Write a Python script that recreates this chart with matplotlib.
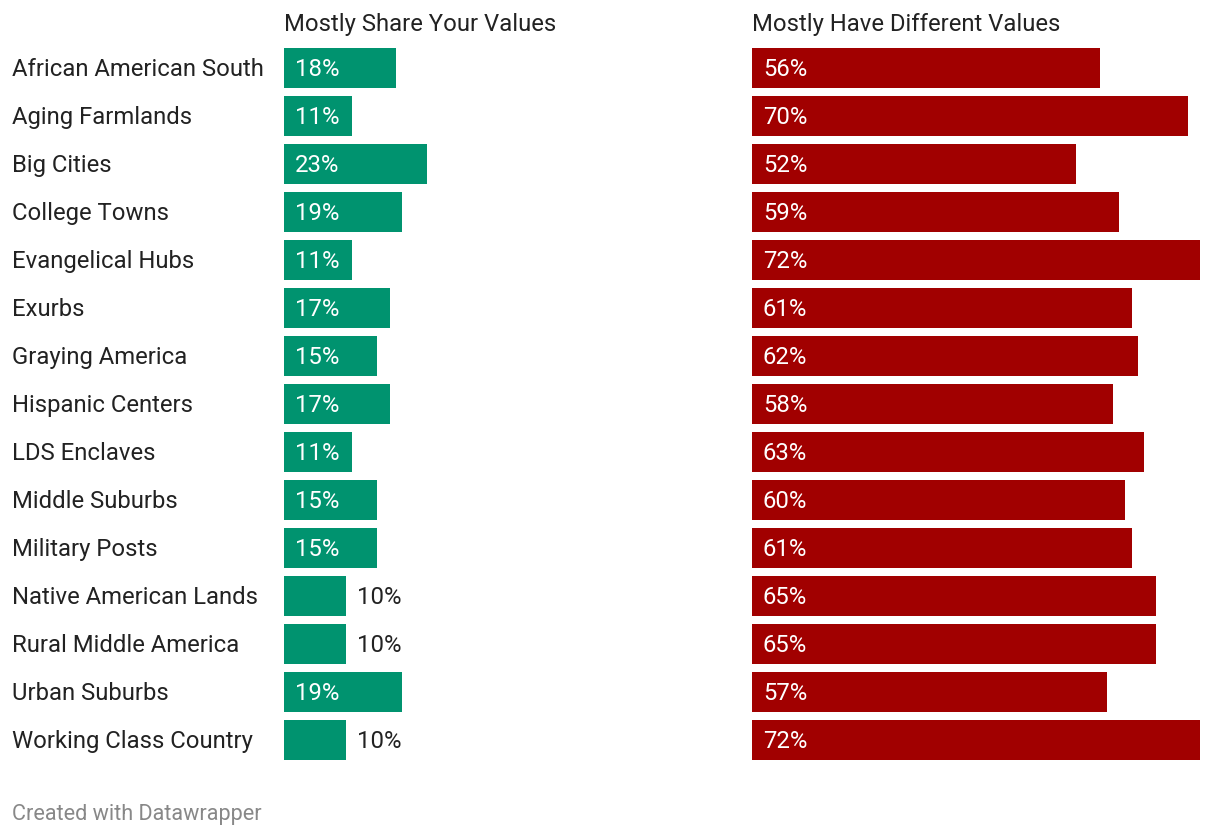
import matplotlib
matplotlib.use("Agg")
import matplotlib.pyplot as plt

plt.rcParams['font.family'] = ['Roboto', 'DejaVu Sans']

# data
categories = ["African American South", "Aging Farmlands", "Big Cities", "College Towns",
              "Evangelical Hubs", "Exurbs", "Graying America", "Hispanic Centers",
              "LDS Enclaves", "Middle Suburbs", "Military Posts", "Native American Lands",
              "Rural Middle America", "Urban Suburbs", "Working Class Country"]
share_values = [18, 11, 23, 19, 11, 17, 15, 17, 11, 15, 15, 10, 10, 19, 10]
different_values = [56, 70, 52, 59, 72, 61, 62, 58, 63, 60, 61, 65, 65, 57, 72]
titles = ["Mostly Share Your Values", "Mostly Have Different Values"]

W, H = 1220, 836
fig = plt.figure(figsize=(W / 100, H / 100), dpi=100)

GREEN = "#00936f"
RED = "#a10000"
TXT = "#222222"
FS = 17.2
xmax = 72


def px_axes(x0, x1, y0, y1):
    return fig.add_axes([x0 / W, 1 - y1 / H, (x1 - x0) / W, (y1 - y0) / H])


n = len(categories)
pos = list(range(n))
panels = [(284, share_values, GREEN), (752, different_values, RED)]
for (x0, vals, color), title in zip(panels, titles):
    ax = px_axes(x0, x0 + 448, 44, 44 + 48 * n)
    ax.barh(pos, vals, height=40 / 48, color=color, align="center")
    ax.set_xlim(0, xmax)
    ax.set_ylim(n - 0.5, -0.5)
    ax.axis("off")
    for i, v in enumerate(vals):
        # small bars get their label outside
        if v >= 11:
            ax.annotate(f"{v}%", (0, i), xytext=(11, -8), textcoords="offset pixels",
                        va="baseline", ha="left", color="white", fontsize=FS)
        else:
            ax.annotate(f"{v}%", (v, i), xytext=(11, -8), textcoords="offset pixels",
                        va="baseline", ha="left", color=TXT, fontsize=FS)
    fig.text(x0 / W, 1 - 31 / H, title, ha="left", va="baseline", fontsize=FS, color=TXT)

for i, c in enumerate(categories):
    fig.text(12 / W, 1 - (76 + 48 * i) / H, c, ha="left", va="baseline", fontsize=FS, color=TXT)

fig.text(12 / W, 1 - 820 / H, "Created with Datawrapper", ha="left", va="baseline",
         fontsize=15.6, color="#888888")

fig.savefig("out.png", dpi=100)
